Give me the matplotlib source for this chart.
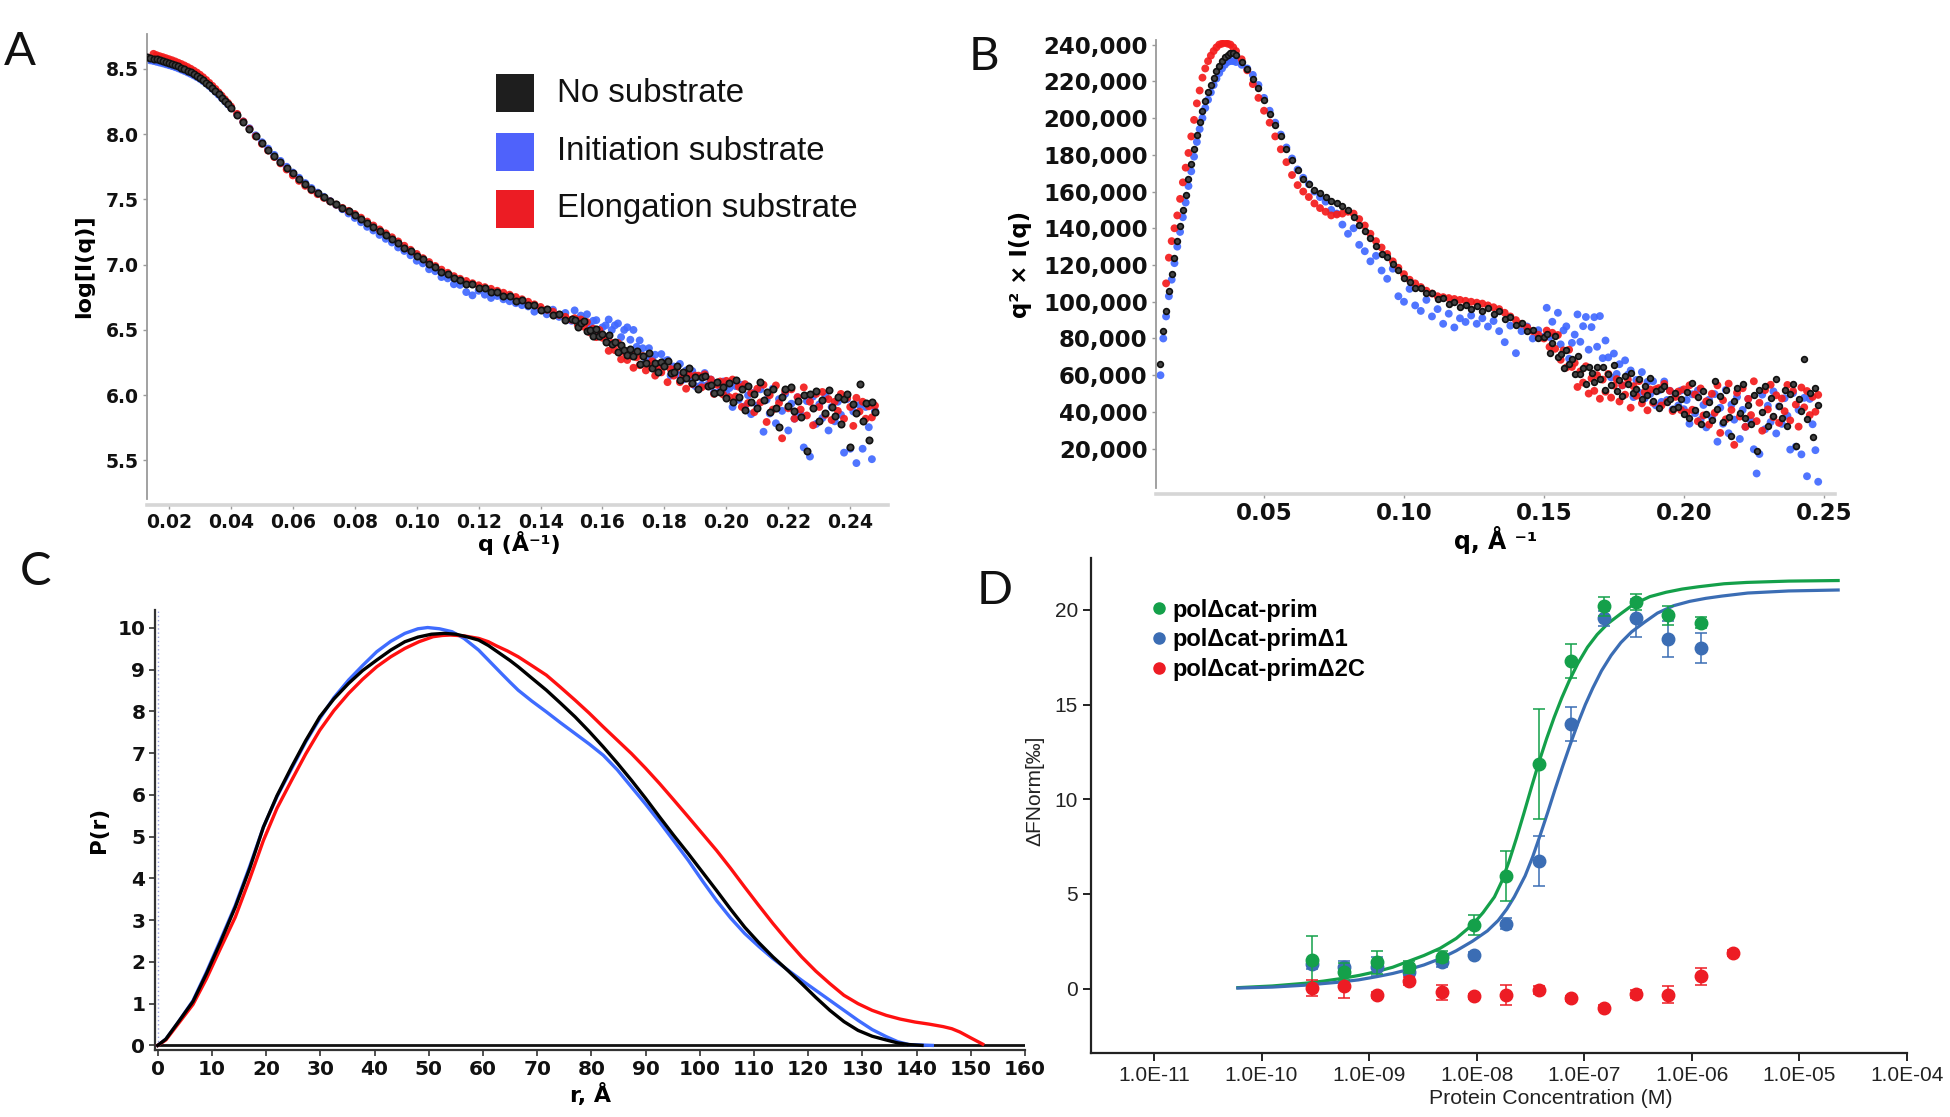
import matplotlib
matplotlib.use('Agg')
import matplotlib.pyplot as plt
import numpy as np
from matplotlib import font_manager
from matplotlib.lines import Line2D
from matplotlib.patches import Rectangle
from matplotlib.ticker import FuncFormatter, NullLocator

# ---------------- data ----------------
# SAXS q grid (1/A), shared by panels A and B
q_low = [0.013, 0.014, 0.015, 0.016, 0.017, 0.018, 0.019, 0.020, 0.021, 0.022,
         0.023, 0.024, 0.025, 0.026, 0.027, 0.028, 0.029, 0.030, 0.031, 0.032,
         0.033, 0.034, 0.035, 0.036, 0.037, 0.038, 0.039, 0.040]
q_mid = [0.042, 0.044, 0.046, 0.048, 0.050, 0.052, 0.054, 0.056, 0.058, 0.060,
         0.062, 0.064, 0.066, 0.068, 0.070, 0.072, 0.074, 0.076, 0.078, 0.080,
         0.082, 0.084, 0.086, 0.088, 0.090, 0.092, 0.094, 0.096, 0.098, 0.100,
         0.102, 0.104, 0.106, 0.108, 0.110, 0.112, 0.114, 0.116, 0.118, 0.120,
         0.122, 0.124, 0.126, 0.128, 0.130, 0.132, 0.134, 0.136, 0.138, 0.140,
         0.142, 0.144, 0.146, 0.148, 0.150]
q_high = [0.151, 0.152, 0.153, 0.154, 0.155, 0.156, 0.157, 0.158, 0.159, 0.160,
          0.161, 0.162, 0.163, 0.164, 0.165, 0.166, 0.167, 0.168, 0.169, 0.170,
          0.171, 0.172, 0.173, 0.174, 0.175, 0.176, 0.177, 0.178, 0.179, 0.180,
          0.181, 0.182, 0.183, 0.184, 0.185, 0.186, 0.187, 0.188, 0.189, 0.190,
          0.191, 0.192, 0.193, 0.194, 0.195, 0.196, 0.197, 0.198, 0.199, 0.200,
          0.201, 0.202, 0.203, 0.204, 0.205, 0.206, 0.207, 0.208, 0.209, 0.210,
          0.211, 0.212, 0.213, 0.214, 0.215, 0.216, 0.217, 0.218, 0.219, 0.220,
          0.221, 0.222, 0.223, 0.224, 0.225, 0.226, 0.227, 0.228, 0.229, 0.230,
          0.231, 0.232, 0.233, 0.234, 0.235, 0.236, 0.237, 0.238, 0.239, 0.240,
          0.241, 0.242, 0.243, 0.244, 0.245, 0.246, 0.247, 0.248]
nan = float('nan')

# panel A: log[I(q)]
logi_none = [8.590, 8.585, 8.578, 8.572, 8.566, 8.560, 8.553, 8.546, 8.538, 8.529,
             8.519, 8.509, 8.498, 8.486, 8.474, 8.461, 8.447, 8.432, 8.414, 8.394,
             8.373, 8.351, 8.328, 8.304, 8.279, 8.254, 8.228, 8.202] + \
            [8.148, 8.093, 8.040, 7.985, 7.931, 7.882, 7.834, 7.788, 7.743, 7.700,
             7.660, 7.620, 7.583, 7.550, 7.519, 7.490, 7.462, 7.435, 7.409, 7.381,
             7.352, 7.316, 7.290, 7.255, 7.230, 7.194, 7.168, 7.130, 7.105, 7.066,
             7.045, 7.003, 6.982, 6.944, 6.930, 6.895, 6.886, 6.855, 6.850, 6.822,
             6.820, 6.793, 6.792, 6.760, 6.760, 6.725, 6.728, 6.690, 6.692, 6.650,
             6.660, 6.615, 6.625, 6.580, 6.585] + \
            [6.58, 6.52, 6.55, 6.565, 6.49, 6.50, 6.45, 6.505, 6.45, 6.47,
             6.405, 6.46, 6.39, 6.405, 6.33, 6.385, 6.35, 6.31, 6.355, 6.30,
             6.34, 6.24, 6.30, 6.25, 6.32, 6.21, 6.25, 6.175, 6.255, 6.22,
             6.26, 6.17, 6.18, 6.22, 6.12, 6.18, 6.13, 6.205, 6.095, 6.14,
             6.05, 6.14, 6.15, 6.07, 6.08, 6.02, 6.10, 6.025, 6.065, 5.98,
             6.095, 5.95, 6.12, 5.985, 6.05, 5.885, 6.07, 5.945, 6.01, 5.90,
             6.105, 5.96, 6.025, 5.87, 6.05, 5.905, 5.76, 5.99, 6.05, 5.92,
             6.065, 5.88, 5.955, 5.83, 6.00, 5.575, 6.01, 5.90, 6.03, 5.80,
             5.965, 5.86, 6.04, 5.91, 5.84, 5.99, 5.78, 5.97, 6.01, 5.60,
             5.935, 5.86, 6.085, 5.80, 5.94, 5.655, 5.95, 5.87]

logi_init = [8.570, 8.565, 8.560, 8.554, 8.548, 8.542, 8.535, 8.528, 8.521, 8.513,
             8.504, 8.494, 8.484, 8.473, 8.462, 8.450, 8.437, 8.423, 8.406, 8.388,
             8.368, 8.347, 8.325, 8.302, 8.278, 8.253, 8.228, 8.203] + \
            [8.150, 8.097, 8.045, 7.991, 7.938, 7.889, 7.841, 7.795, 7.750, 7.706,
             7.666, 7.625, 7.587, 7.552, 7.520, 7.488, 7.458, 7.425, 7.392, 7.358,
             7.325, 7.290, 7.262, 7.228, 7.198, 7.170, 7.132, 7.105, 7.072, 7.030,
             7.010, 6.965, 6.950, 6.905, 6.895, 6.850, 6.845, 6.790, 6.765, 6.800,
             6.770, 6.745, 6.760, 6.735, 6.720, 6.705, 6.690, 6.680, 6.640, 6.655,
             6.620, 6.655, 6.600, 6.630, 6.570] + \
            [6.65, 6.57, 6.61, 6.565, 6.62, 6.53, 6.57, 6.575, 6.47, 6.52,
             6.535, 6.58, 6.50, 6.535, 6.55, 6.445, 6.50, 6.52, 6.425, 6.50,
             6.37, 6.42, 6.36, 6.28, 6.36, 6.28, 6.31, 6.225, 6.315, 6.26,
             6.27, 6.15, 6.22, 6.16, 6.24, 6.12, 6.19, 6.135, 6.185, 6.07,
             6.14, 6.08, 6.17, 6.08, 6.12, 6.02, 6.09, 6.035, 6.105, 6.01,
             6.055, 5.91, 6.07, 5.965, 6.08, 5.915, 6.00, 5.855, 6.02, 5.92,
             6.045, 5.72, 5.965, 5.86, 6.05, 5.785, 5.97, 5.88, 6.01, 5.73,
             5.935, 5.82, 5.985, 5.85, 5.60, 5.955, 5.53, 5.99, 5.78, 5.93,
             5.825, 5.99, 5.73, 5.91, 5.80, 5.95, 5.85, 5.56, 5.97, 5.59,
             5.875, 5.48, 5.925, 5.59, 5.91, 5.755, 5.51, 5.88]

logi_elong = [nan, nan, 8.615, 8.605, 8.597, 8.590, 8.582, 8.574, 8.566, 8.557,
              8.547, 8.537, 8.526, 8.514, 8.501, 8.487, 8.472, 8.455, 8.436, 8.415,
              8.393, 8.370, 8.346, 8.320, 8.294, 8.267, 8.240, 8.212] + \
             [8.155, 8.097, 8.040, 7.983, 7.926, 7.874, 7.824, 7.776, 7.729, 7.684,
              7.642, 7.604, 7.570, 7.540, 7.512, 7.485, 7.460, 7.435, 7.412, 7.388,
              7.360, 7.330, 7.300, 7.270, 7.240, 7.210, 7.178, 7.145, 7.114, 7.082,
              7.050, 7.020, 6.990, 6.962, 6.938, 6.912, 6.892, 6.875, 6.858, 6.842,
              6.828, 6.815, 6.800, 6.785, 6.770, 6.752, 6.735, 6.716, 6.696, 6.676,
              6.655, 6.640, 6.615, 6.600, 6.578] + \
             [6.59, 6.54, 6.58, 6.525, 6.56, 6.48, 6.51, 6.445, 6.50, 6.44,
              6.445, 6.34, 6.40, 6.345, 6.40, 6.275, 6.33, 6.27, 6.325, 6.21,
              6.29, 6.23, 6.30, 6.19, 6.24, 6.26, 6.15, 6.225, 6.175, 6.24,
              6.10, 6.20, 6.15, 6.21, 6.10, 6.15, 6.05, 6.155, 6.085, 6.15,
              6.15, 6.06, 6.16, 6.07, 6.12, 6.01, 6.08, 6.105, 6.005, 6.11,
              5.985, 6.12, 5.99, 6.065, 5.91, 6.085, 5.94, 6.015, 5.87, 6.05,
              5.945, 6.08, 5.795, 6.00, 5.89, 6.075, 5.94, 5.67, 6.03, 5.90,
              6.045, 5.82, 5.985, 5.89, 6.06, 5.845, 5.95, 5.77, 6.01, 5.91,
              6.025, 5.85, 5.97, 5.81, 5.95, 5.88, 6.01, 5.82, 5.98, 5.91,
              5.765, 5.98, 5.875, 5.95, 5.82, 5.915, 5.83, 5.92]

# panel B: q^2 x I(q), in thousands
kr_none = [66, 84, 95, 106, 115, 124, 133, 141, 150, 158,
           167, 175, 183, 191, 198, 204, 209.5, 214, 218, 222,
           225.5, 228.5, 231, 233, 234.5, 235.5, 235.5, 234.5] + \
          [230.5, 226.5, 221.5, 216.5, 210, 202, 196, 190, 183, 177,
           171.5, 167, 164, 161, 159, 157, 155, 153.5, 152, 150,
           146, 142, 138.5, 134.5, 130.5, 126, 124.5, 120.5, 117.5, 113,
           111, 107.5, 107.5, 104.5, 105, 101.5, 102, 99, 100, 97,
           98.5, 96, 97.5, 95, 96.5, 93.5, 95, 90.5, 91.5, 87.5,
           88.5, 84, 84.5, 80, 81] + \
          [82.3, 72.0, 77.5, 81.5, 69.7, 71.6, 64.0, 73.8, 65.9, 69.1,
           60.8, 70.6, 60.7, 64.2, 55.2, 64.4, 61.0, 56.4, 64.3, 58.1,
           64.7, 52.1, 60.7, 54.9, 65.4, 51.6, 57.5, 48.6, 59.4, 55.0,
           61.1, 50.4, 52.3, 58.1, 46.8, 54.4, 49.2, 58.5, 46.1, 51.2,
           42.0, 52.3, 54.1, 45.5, 47.0, 41.4, 50.4, 42.5, 47.1, 38.8,
           51.0, 36.9, 55.6, 41.1, 48.2, 33.3, 51.5, 38.9, 45.6, 35.4,
           57.1, 41.4, 48.6, 34.4, 52.0, 37.5, 27.1, 46.1, 52.9, 39.2,
           55.4, 36.6, 44.0, 33.4, 49.4, 18.8, 51.7, 40.1, 54.4, 32.2,
           47.7, 38.0, 57.7, 43.0, 36.7, 52.1, 32.2, 50.0, 55.1, 21.6,
           47.3, 40.5, 69.0, 36.4, 50.4, 26.5, 52.8, 43.9]

kr_init = [60, 80, 92, 103, 112, 121, 130, 138, 146, 154,
           163, 171, 179, 187, 194, 200, 205.5, 210, 214, 218,
           221.5, 224.5, 227, 229, 230.5, 231, 231, 230.5] + \
          [229, 227, 223.5, 218, 211, 204, 197.5, 191, 184, 178,
           172, 167.5, 164, 160, 157, 154.5, 150, 148, 142, 137,
           140, 131, 127.5, 122, 125, 117, 112.5, 118, 103, 100,
           107, 98, 95, 101, 92, 96, 88, 93.5, 86, 91,
           89, 92.5, 88, 91, 86.5, 89.5, 84, 78, 87, 72,
           84, 86.5, 80, 84.5, 81] + \
          [96.7, 80.8, 89.1, 81.5, 94.0, 76.8, 84.4, 86.6, 69.0, 77.6,
           82.1, 93.1, 78.2, 86.7, 91.7, 73.9, 86.2, 91.6, 75.5, 92.2,
           69.3, 78.9, 69.7, 58.8, 71.8, 60.7, 66.0, 54.5, 68.1, 60.3,
           62.6, 48.1, 57.4, 50.6, 61.7, 47.4, 56.4, 49.8, 56.7, 43.6,
           51.7, 45.5, 56.6, 46.5, 51.5, 41.4, 49.3, 43.5, 51.7, 41.5,
           46.5, 33.6, 49.6, 39.3, 51.7, 35.7, 43.8, 31.6, 46.7, 37.0,
           49.7, 23.8, 42.3, 33.6, 52.0, 28.4, 44.0, 35.8, 48.2, 25.3,
           41.1, 31.9, 47.1, 35.0, 19.7, 6.5, 17.1, 49.4, 30.6, 43.4,
           34.5, 51.2, 28.3, 43.0, 33.5, 47.5, 37.9, 19.5, 50.3, 21.1,
           41.2, 16.9, 47.7, 5.0, 47.1, 33.3, 19.2, 2.0]

kr_elong = [nan, nan, 110, 124, 133, 140, 147, 156, 165, 173,
            181, 190, 199, 208, 215, 222, 227, 231, 234, 236.5,
            238.5, 240, 240.5, 241, 240.5, 240, 238.5, 236.5] + \
           [232, 226, 218.5, 211, 204, 197.5, 190, 183, 176, 169,
            163.5, 160, 157, 153.5, 151, 149, 147, 147.5, 148, 149,
            148, 145, 141.5, 137, 133, 129.5, 126, 122, 118.5, 115,
            112, 110, 108, 106, 104.5, 103, 102.5, 102, 101.5, 101,
            100.5, 100, 99.5, 99, 98, 97, 96, 94, 92, 90,
            88, 86, 84, 82, 80] + \
           [84.3, 75.4, 83.1, 74.4, 81.9, 68.4, 73.5, 64.2, 73.9, 64.5,
            66.7, 53.6, 62.1, 56.0, 64.9, 50.0, 58.3, 51.5, 60.0, 47.2,
            57.6, 51.0, 60.7, 47.8, 54.4, 57.9, 45.7, 54.5, 49.4, 57.6,
            42.3, 54.0, 48.8, 56.8, 44.7, 50.8, 40.9, 52.2, 45.0, 52.4,
            53.0, 43.5, 55.3, 45.5, 51.5, 40.5, 48.2, 51.1, 41.0, 52.3,
            39.6, 54.5, 41.2, 49.5, 34.9, 52.8, 38.1, 45.8, 33.1, 49.9,
            39.5, 54.5, 28.6, 46.4, 36.0, 55.4, 41.1, 22.1, 50.5, 37.5,
            52.9, 31.9, 47.1, 38.3, 56.7, 35.0, 45.0, 29.8, 51.9, 41.4,
            54.8, 37.1, 49.1, 34.1, 47.3, 40.4, 54.7, 35.4, 51.4, 44.0,
            32.0, 53.3, 42.5, 51.4, 38.3, 48.2, 40.1, 49.3]

# panel C: pair distance distributions P(r)
r_none = [0, 1.5, 3.8, 6.5, 9.0, 11.5, 14.3, 17, 19.5, 22, 24.7, 27.3, 29.9, 32.5,
          35.2, 37.8, 40.4, 43, 45.6, 48, 50.5, 52.9, 55, 57, 59.2, 61, 63, 65, 66.5,
          69, 71.7, 74.3, 77.0, 79.6, 82.2, 84.8, 87.4, 90, 92.6, 95.2, 97.9, 100.5,
          103.1, 105.7, 108.3, 110.9, 113.5, 116.2, 118.8, 121.4, 124.0, 126.6,
          129.2, 131.8, 134.4, 136.5, 138.6, 141]
p_none = [0, 0.15, 0.56, 1.05, 1.72, 2.45, 3.31, 4.25, 5.23, 5.98, 6.67, 7.3, 7.87, 8.3,
          8.67, 8.98, 9.23, 9.47, 9.67, 9.78, 9.85, 9.87, 9.85, 9.79, 9.71, 9.58, 9.4, 9.22, 9.07,
          8.8, 8.51, 8.2, 7.87, 7.52, 7.15, 6.76, 6.35, 5.92, 5.47, 5.03, 4.59, 4.15,
          3.71, 3.26, 2.83, 2.46, 2.12, 1.8, 1.48, 1.15, 0.84, 0.57,
          0.36, 0.22, 0.13, 0.06, 0.02, 0.0]
r_init = [0, 1.5, 3.8, 6.5, 9.0, 11.5, 14.3, 17, 19.5, 22, 24.7, 27.3, 29.9, 32.5,
          35.2, 37.8, 40.4, 43, 45.6, 48, 49.8, 52, 54.3, 56.5, 59.2, 61.3, 63.4, 65,
          66.5, 69, 71.7, 74.3, 77.0, 79.6, 82.2, 84.8, 87.4, 90, 92.6, 95.2, 97.9,
          100.5, 103.1, 105.7, 108.3, 110.9, 113.5, 116.2, 118.8, 121.4, 124.0,
          126.6, 129.2, 131.8, 134.4, 136.5, 138.6, 142.9]
p_init = [0, 0.15, 0.56, 1.07, 1.76, 2.5, 3.35, 4.3, 5.23, 5.96, 6.63, 7.27, 7.83, 8.33,
          8.75, 9.1, 9.43, 9.68, 9.87, 9.98, 10.01, 9.98, 9.91, 9.75, 9.47, 9.19, 8.91, 8.7,
          8.51, 8.25, 7.99, 7.73, 7.47, 7.22, 6.95, 6.6, 6.19, 5.78, 5.35, 4.9, 4.43,
          3.94, 3.47, 3.05, 2.68, 2.37, 2.08, 1.81, 1.56, 1.32, 1.08,
          0.84, 0.60, 0.38, 0.21, 0.09, 0.02, 0.0]
r_elong = [0, 1.5, 3.8, 6.5, 9.0, 11.5, 14.3, 17, 19.5, 22, 24.7, 27.3, 29.9, 32.5,
           35.2, 37.8, 40.4, 43, 45.6, 48.2, 50.8, 52.5, 54, 56.5, 59.2, 61, 62.5, 64.5,
           66.5, 69, 71.7, 74.3, 77.0, 79.6, 82.2, 84.8, 87.4, 90, 92.6, 95.2, 97.9,
           100.5, 103.1, 105.7, 108.3, 110.9, 113.5, 116.2, 118.8, 121.4, 124.0,
           126.6, 129.2, 131.8, 134.4, 137, 139.7, 142.3, 144.9, 146.5, 148, 150, 152.2]
p_elong = [0, 0.13, 0.52, 0.98, 1.60, 2.3, 3.07, 4.0, 4.91, 5.68, 6.35, 6.98, 7.55, 8.02,
           8.43, 8.77, 9.07, 9.31, 9.51, 9.67, 9.79, 9.82, 9.83, 9.81, 9.75, 9.67, 9.57, 9.45,
           9.31, 9.1, 8.87, 8.58, 8.27, 7.96, 7.63, 7.31, 6.99, 6.64, 6.27, 5.88, 5.47,
           5.07, 4.67, 4.24, 3.79, 3.35, 2.92, 2.5, 2.12, 1.78, 1.48,
           1.2, 1.00, 0.84, 0.72, 0.63, 0.56, 0.51, 0.45, 0.40, 0.32, 0.18, 0.03]

# panel D: MST binding
conc = [2.95e-10, 5.9e-10, 1.18e-9, 2.36e-9, 4.72e-9, 9.44e-9, 1.89e-8,
        3.78e-8, 7.55e-8, 1.51e-7, 3.02e-7, 6.04e-7, 1.21e-6, 2.42e-6]
fn_prim = [1.5, 0.9, 1.38, 1.15, 1.68, 3.35, 5.95, 11.85, 17.3, 20.2, 20.42, 19.72, 19.32]
fn_prim_err = [1.3, 0.45, 0.6, 0.3, 0.3, 0.52, 1.3, 2.9, 0.9, 0.5, 0.4, 0.5, 0.3]
fn_d1 = [1.28, 1.15, 1.15, 0.9, 1.38, 1.8, 3.43, 6.75, 13.98, 19.55, 19.58, 18.45, 17.97]
fn_d1_err = [0.25, 0.3, 0.5, 0.2, 0.25, 0.15, 0.3, 1.33, 0.9, 0.4, 1.0, 0.95, 0.8]
fn_d2c = [0.03, 0.16, -0.34, 0.4, -0.2, -0.41, -0.34, -0.08, -0.52, -1.0, -0.27, -0.32, 0.66, 1.89]
fn_d2c_err = [0.4, 0.65, 0.15, 0.2, 0.4, 0.15, 0.55, 0.2, 0.15, 0.15, 0.2, 0.45, 0.45, 0.15]

# fitted curves (log10 concentration, value)
fit_prim_logc = [-10.22, -9.90, -9.60, -9.42, -9.25, -9.09, -8.93, -8.78, -8.64, -8.49,
                 -8.34, -8.19, -8.04, -7.94, -7.835, -7.77, -7.70, -7.63, -7.56, -7.49,
                 -7.42, -7.35, -7.28, -7.21, -7.14, -7.06, -6.97, -6.88, -6.78, -6.66,
                 -6.54, -6.39, -6.24, -6.09, -5.94, -5.70, -5.49, -5.10, -4.64]
fit_prim = [0.05, 0.14, 0.28, 0.40, 0.54, 0.70, 0.90, 1.13, 1.43, 1.75,
            2.13, 2.65, 3.37, 4.02, 4.84, 5.62, 6.70, 7.95, 9.28, 10.65,
            11.98, 13.20, 14.32, 15.34, 16.25, 17.17, 18.03, 18.70, 19.28, 19.80,
            20.30, 20.70, 20.93, 21.10, 21.22, 21.38, 21.45, 21.52, 21.55]
fit_d1_logc = [-10.22, -9.90, -9.60, -9.30, -9.10, -8.93, -8.78, -8.64, -8.49, -8.34,
               -8.19, -8.04, -7.90, -7.80, -7.72, -7.65, -7.55, -7.48, -7.41, -7.34,
               -7.27, -7.20, -7.13, -7.06, -6.99, -6.92, -6.84, -6.75, -6.66, -6.56,
               -6.44, -6.32, -6.17, -6.02, -5.87, -5.72, -5.48, -5.10, -4.64]
fit_d1 = [0.03, 0.08, 0.18, 0.33, 0.46, 0.63, 0.80, 1.0, 1.25, 1.58,
          2.0, 2.5, 3.05, 3.6, 4.2, 4.85, 5.95, 6.95, 8.1, 9.3,
          10.55, 11.75, 12.9, 14.0, 15.0, 15.88, 16.78, 17.6, 18.27, 18.84,
          19.35, 19.83, 20.22, 20.45, 20.61, 20.73, 20.89, 21.0, 21.05]

a_xticks = [0.02, 0.04, 0.06, 0.08, 0.10, 0.12, 0.14, 0.16, 0.18, 0.20, 0.22, 0.24]
a_yticks = [5.5, 6.0, 6.5, 7.0, 7.5, 8.0, 8.5]
b_xticks = [0.05, 0.10, 0.15, 0.20, 0.25]
b_yticks = [20000, 40000, 60000, 80000, 100000, 120000, 140000, 160000, 180000,
            200000, 220000, 240000]
c_xticks = [0, 10, 20, 30, 40, 50, 60, 70, 80, 90, 100, 110, 120, 130, 140, 150, 160]
c_yticks = [0, 1, 2, 3, 4, 5, 6, 7, 8, 9, 10]
d_xticks = [1e-11, 1e-10, 1e-9, 1e-8, 1e-7, 1e-6, 1e-5, 1e-4]
d_yticks = [0, 5, 10, 15, 20]

series_names = ['No substrate', 'Initiation substrate', 'Elongation substrate']
mst_names = ['polΔcat-prim', 'polΔcat-primΔ1', 'polΔcat-primΔ2C']

# ---------------- style ----------------
plt.rcParams['font.family'] = ['DejaVu Sans']
names = {f.name for f in font_manager.fontManager.ttflist}
HAS_NARROW = 'Liberation Sans Narrow' in names
NARROW = ['Liberation Sans Narrow', 'DejaVu Sans'] if HAS_NARROW else ['Liberation Sans', 'DejaVu Sans']
ARIAL = ['Liberation Sans', 'DejaVu Sans']
LETTER = ['Lato', 'Liberation Sans', 'DejaVu Sans'] if 'Lato' in names else ARIAL
nsc = 1.0 if HAS_NARROW else 0.82

BLACK = '#111111'
BLUE = '#4169ff'
RED = '#f41c1c'
LEG_COLORS = ['#1e1e1e', '#4f62fb', '#ec1c24']
D_GREEN = '#14a04a'
D_BLUE = '#3b6db4'
D_RED = '#ed1c24'

W, H = 1950, 1117
fig = plt.figure(figsize=(W / 100, H / 100), dpi=100)


def box(l, t, r, b):
    return [l / W, 1 - b / H, (r - l) / W, (b - t) / H]


q = np.array(q_low + q_mid + q_high)


def saxs_style(ax, size):
    for s in ('top', 'right'):
        ax.spines[s].set_visible(False)
    ax.spines['left'].set_color('#9a9a9a')
    ax.spines['left'].set_linewidth(1.3)
    ax.spines['bottom'].set_color('#d6d6d6')
    ax.spines['bottom'].set_linewidth(2.6)
    ax.spines['bottom'].set_position(('outward', 4))
    ax.tick_params(colors='#9a9a9a', labelcolor='#111111', length=3, width=1,
                   labelsize=size, pad=3)


# ---------------- panel A ----------------
axA = fig.add_axes(box(147, 34, 888, 499))
axA.scatter(q, logi_init, s=32, color=BLUE, edgecolors='none', alpha=0.92, zorder=2)
axA.scatter(q, logi_elong, s=32, color=RED, edgecolors='none', alpha=0.92, zorder=3)
axA.scatter(q, logi_none, s=21, facecolor='#444444', edgecolor=BLACK, linewidths=1.2, zorder=4)
axA.set_xlim(0.0129, 0.2522)
axA.set_ylim(5.205, 8.767)
saxs_style(axA, 13.5)
axA.set_xticks(a_xticks, [f'{v:.2f}' for v in a_xticks], fontweight='bold')
axA.set_yticks(a_yticks, [f'{v:.1f}' for v in a_yticks], fontweight='bold')
axA.set_ylabel('log[I(q)]', fontsize=16, fontweight='bold')
axA.yaxis.set_label_coords(-0.072, 0.5)
axA.set_xlabel('q (Å⁻¹)', fontsize=16, fontweight='bold')
axA.xaxis.set_label_coords(0.503, -0.068)

# legend of panel A
sq_tops = [74, 133, 190]
for top, col, name in zip(sq_tops, LEG_COLORS, series_names):
    fig.add_artist(Rectangle((496 / W, 1 - (top + 38) / H), 38 / W, 38 / H,
                             transform=fig.transFigure, facecolor=col, edgecolor='none'))
    fig.text(557 / W, 1 - (top + 19) / H, name, fontsize=29 * nsc, family=NARROW,
             ha='left', va='center', color='#111111')

# ---------------- panel B ----------------
axB = fig.add_axes(box(1156, 40, 1835, 488))
axB.scatter(q, np.array(kr_init) * 1000, s=32, color=BLUE, edgecolors='none', alpha=0.92, zorder=2)
axB.scatter(q, np.array(kr_elong) * 1000, s=32, color=RED, edgecolors='none', alpha=0.92, zorder=3)
axB.scatter(q, np.array(kr_none) * 1000, s=17, facecolor='#444444', edgecolor=BLACK,
            linewidths=1.2, zorder=4)
axB.set_xlim(0.0114, 0.254)
axB.set_ylim(-1400, 242500)
saxs_style(axB, 16.5)
axB.set_xticks(b_xticks, [f'{v:.2f}' for v in b_xticks], fontweight='bold')
axB.set_yticks(b_yticks, [f'{v:,}' for v in b_yticks], fontweight='bold')
axB.set_ylabel('q² × I(q)', fontsize=16.5, fontweight='bold')
axB.yaxis.set_label_coords(-0.183, 0.5)
axB.set_xlabel('q, Å ⁻¹', fontsize=17, fontweight='bold')
axB.xaxis.set_label_coords(0.5, -0.085)

# ---------------- panel C ----------------
axC = fig.add_axes(box(155, 610, 1025, 1050))
axC.axvline(0, color='#9aa0dd', lw=1, ls=(0, (1, 2)), zorder=1)
axC.axhline(0, color='#111111', lw=2, zorder=2)
axC.plot(r_init, p_init, color='#3f6cff', lw=2.4, zorder=3)
axC.plot(r_elong, p_elong, color='#ff1010', lw=2.4, zorder=3)
axC.plot(r_none, p_none, color='#000000', lw=2.4, zorder=4)
axC.set_xlim(-0.5, 160)
axC.set_ylim(-0.11, 10.43)
for s in ('top', 'right'):
    axC.spines[s].set_visible(False)
for s in ('left', 'bottom'):
    axC.spines[s].set_color('#333333')
    axC.spines[s].set_linewidth(1.6)
axC.tick_params(colors='#333333', labelcolor='#111111', length=4, width=1.2,
                labelsize=14.5, pad=3)
axC.set_xticks(c_xticks, [str(v) for v in c_xticks], fontweight='bold')
axC.set_yticks(c_yticks, [str(v) for v in c_yticks], fontweight='bold')
axC.set_ylabel('P(r)', fontsize=15.5, fontweight='bold')
axC.yaxis.set_label_coords(-0.053, 0.5)
axC.set_xlabel('r, Å', fontsize=16, fontweight='bold')
axC.xaxis.set_label_coords(0.5, -0.075)

# ---------------- panel D ----------------
axD = fig.add_axes(box(1091, 558, 1907, 1053))
axD.set_xscale('log')
axD.plot(10 ** np.array(fit_prim_logc), fit_prim, color=D_GREEN, lw=2.3, zorder=2)
axD.plot(10 ** np.array(fit_d1_logc), fit_d1, color=D_BLUE, lw=2.3, zorder=2)
ms = 9
axD.errorbar(conc[:13], fn_d1, yerr=fn_d1_err, fmt='o', color=D_BLUE, ms=ms,
             ecolor=D_BLUE, elinewidth=1.1, capsize=4, capthick=1.1, zorder=3)
axD.errorbar(conc[:13], fn_prim, yerr=fn_prim_err, fmt='o', color=D_GREEN, ms=ms,
             ecolor=D_GREEN, elinewidth=1.1, capsize=4, capthick=1.1, zorder=4)
axD.errorbar(conc, fn_d2c, yerr=fn_d2c_err, fmt='o', color=D_RED, ms=ms,
             ecolor=D_RED, elinewidth=1.1, capsize=4, capthick=1.1, zorder=4)
axD.set_xlim(10 ** -11.585, 1e-4)
axD.set_ylim(-3.4, 22.74)
for s in ('top', 'right'):
    axD.spines[s].set_visible(False)
for s in ('left', 'bottom'):
    axD.spines[s].set_color('#222222')
    axD.spines[s].set_linewidth(1.6)
axD.set_xticks(d_xticks)
axD.xaxis.set_major_formatter(FuncFormatter(lambda v, p: f'{v:.1E}'))
axD.xaxis.set_minor_locator(NullLocator())
axD.set_yticks(d_yticks)
axD.tick_params(colors='#222222', labelcolor='#222222', length=6, width=1.4,
                labelsize=15)
for t in axD.get_xticklabels() + axD.get_yticklabels():
    t.set_family(ARIAL)
axD.set_xlabel('Protein Concentration (M)', fontsize=15.3, family=ARIAL, color='#222222')
axD.xaxis.set_label_coords(0.564, -0.072)
axD.set_ylabel('ΔFNorm[‰]', fontsize=15, family=ARIAL, color='#222222')
axD.yaxis.set_label_coords(-0.057, 0.53)
handles = [Line2D([], [], marker='o', ls='none', color=c, ms=8)
           for c in (D_GREEN, D_BLUE, D_RED)]
axD.legend(handles, mst_names, loc='upper left', bbox_to_anchor=(0.072, 0.918),
           frameon=False, handlelength=0.8, handletextpad=0.15, labelspacing=0.28,
           borderpad=0, borderaxespad=0,
           prop={'family': ARIAL, 'weight': 'bold', 'size': 17})

# panel letters
for letter, x, y in [('A', 20, 52), ('B', 984, 57), ('C', 36, 572), ('D', 995, 591)]:
    fig.text(x / W, 1 - y / H, letter, fontsize=34, family=LETTER, fontweight='normal',
             ha='center', va='center', color='#111111')

fig.savefig('out.png', dpi=100, facecolor='white')
